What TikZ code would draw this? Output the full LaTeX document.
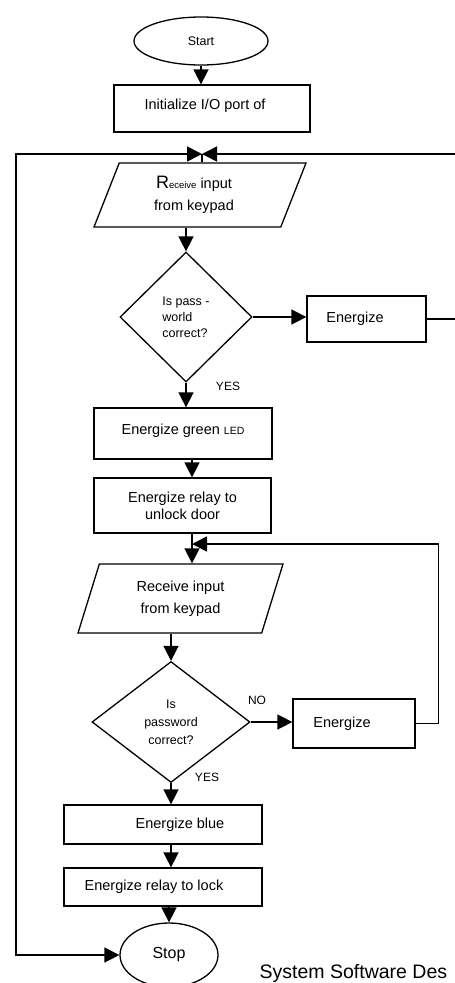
\documentclass[tikz,border=0pt]{standalone}
\usepackage{fontspec}
\setmainfont{Liberation Sans}
\usetikzlibrary{arrows.meta, calc, positioning, shapes.geometric}

\begin{document}
\begin{tikzpicture}[% styles used in the flowchart
          x = 1pt, y = -1pt,
          > = {Triangle[length=15pt, width=15pt]}, % from arrows.meta
 line width = 1.3pt,
term/.style = {ellipse, draw, inner sep=0pt,
               font=\fontsize{12.5}{14}\selectfont},
 box/.style = {draw, rectangle, inner sep=0pt, align=center,
               font=\fontsize{14.5}{17}\selectfont},
  io/.style = {draw, trapezium, trapezium stretches body,
               trapezium left angle=56, trapezium right angle=124,
               inner sep=0pt, align=center,
               font=\fontsize{14.5}{22}\selectfont},
 dec/.style = {draw, diamond, inner sep=0pt,
               font=\fontsize{12.5}{16}\selectfont},
 tag/.style = {font=\fontsize{12}{13}\selectfont},
link/.style = {->, line width=1.6pt}
                        ]
	\useasboundingbox (0,0) rectangle (455,983);
	% upper part
	\node[term, minimum width=134pt, minimum height=48pt] (start) at (201,41) {Start};
	\node[box, minimum width=196pt, minimum height=47pt, text depth=9pt] (init) at (212,108.5) {Initialize I/O port of\hspace*{14pt}};
	\coordinate (top) at (202,154);
	\node[io, minimum width=212pt, minimum height=64pt] (in1) at (200,195)
	     {{\fontsize{18}{18}\selectfont R}{\fontsize{9.5}{9.5}\selectfont eceive} input\hspace*{12pt}\\from keypad\hspace*{12pt}};
	\node[dec, minimum width=132pt, minimum height=130pt, align=left] (chk1) at (186,317) {Is pass -\\world\\correct?};
	\node[box, minimum width=119pt, minimum height=46pt] (en1) at (366.5,319) {Energize\hspace*{23pt}};
	\node[tag] (yes1) at (228,386) {YES};
	\node[box, minimum width=178pt, minimum height=51pt, text depth=9pt] (green) at (183,433.5)
	     {Energize green {\fontsize{10.5}{10.5}\selectfont LED}};
	\node[box, minimum width=177pt, minimum height=55pt] (relay) at (182.5,505.5) {Energize relay to\\unlock door};

	% lower part
	\coordinate (back) at (192,544);
	\node[io, minimum width=205pt, minimum height=69pt,
	      trapezium left angle=59, trapezium right angle=121] (in2) at (180.5,598.5) {Receive input\\from keypad};
	\node[dec, minimum width=158pt, minimum height=121pt, align=center,
	      font=\fontsize{12.5}{18}\selectfont] (chk2) at (171,722) {Is\\password\\correct?};
	\node[tag] (no) at (257,700) {NO};
	\node[box, minimum width=122pt, minimum height=49pt] (en2) at (354,723.5) {Energize\hspace*{24pt}};
	\node[tag] (yes2) at (207,777) {YES};
	\node[box, minimum width=198pt, minimum height=39pt] (blue) at (163,824.5) {\hspace*{34pt}Energize blue};
	\node[box, minimum width=198pt, minimum height=38pt] (lock) at (163,887) {Energize relay to lock\hspace*{18pt}};
	\node[term, minimum width=98pt, minimum height=64pt,
	      font=\fontsize{16}{18}\selectfont] (stop) at (169,955) {Stop};
	\node[anchor=base west, inner sep=0pt, font=\fontsize{19.5}{24}\selectfont] (sys) at (259,978) {System Software Des};

	% connectors
	\coordinate (edge) at (16,560);
	\draw[link] (start.south) -- (start.south |- init.north);
	\draw[link] (en1.east) -- ++(40,0) |- (top);
	\draw[link, <->] (top) -| (edge) |- (stop.west);
	\draw (top) -- (top |- in1.north);
	\draw[link] (in1.south -| chk1.north) -- (chk1.north);
	\draw[link] (chk1.east) -- (chk1.east -| en1.west);
	\draw[link] (chk1.south) -- (chk1.south |- green.north);
	\draw[link] (green.south -| back) -- (relay.north -| back);
	\draw[link] (relay.south -| back) -- (in2.north -| back);
	\draw[link] (en2.east) -- ++(23,0) |- (back);
	\draw[link] (in2.south -| chk2.north) -- (chk2.north);
	\draw[link] (chk2.east) -- (chk2.east -| en2.west);
	\draw[link] (chk2.south) -- (chk2.south |- blue.north);
	\draw[link] (blue.south -| chk2) -- (lock.north -| chk2);
	\draw[link] (lock.south -| stop) -- (stop.north);
\end{tikzpicture}
\end{document}
